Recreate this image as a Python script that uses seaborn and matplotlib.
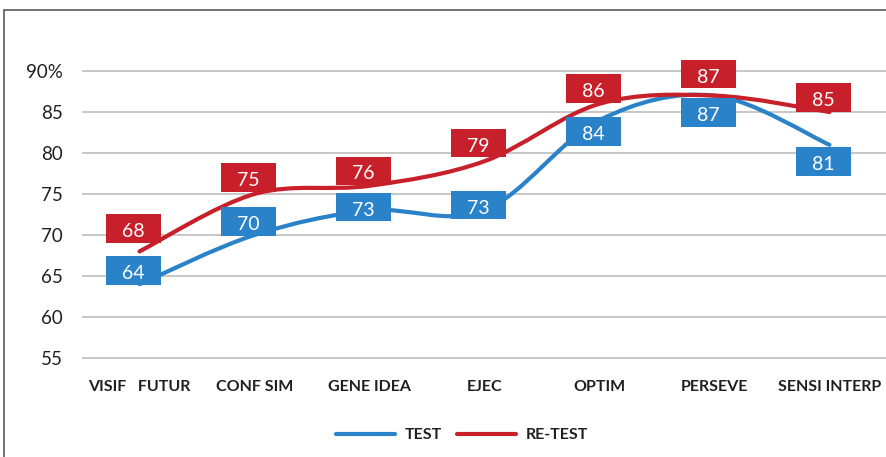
import numpy as np
import pandas as pd
import seaborn as sns
import matplotlib
matplotlib.use("Agg")
import matplotlib.pyplot as plt
from matplotlib.path import Path
from matplotlib.patches import PathPatch, Rectangle
from matplotlib.lines import Line2D
import matplotlib.transforms as mtransforms

# ---- data ----
categories = ["VISIF   FUTUR", "CONF SIM", "GENE IDEA", "EJEC", "OPTIM", "PERSEVE", "SENSI INTERP"]
test = [64, 70, 73, 73, 84, 87, 81]
retest = [68, 75, 76, 79, 86, 87, 85]
y_ticks = [55, 60, 65, 70, 75, 80, 85, 90]
y_tick_labels = ["55", "60", "65", "70", "75", "80", "85", "90%"]

# label box offsets (pixels, relative to the point)
test_label_dy = [13.5, 13.5, 3.5, 5.5, -11.5, -17, -16.5]
retest_label_dy = [23, 16.5, 15, 18, 15.5, 21.6, 14.5]
label_dx = -6

BLUE = "#2A82C8"
RED = "#C7202A"
GRID = "#BEBEBE"
TXT = "#231F20"

sns.set_theme(style="white")
plt.rcParams["font.family"] = ["Lato", "DejaVu Sans"]

W, H = 886, 457
fig = plt.figure(figsize=(W / 100, H / 100), dpi=100)
left_px, right_px = 82, 886
bottom_px, top_px = 362.1, 30
ax = fig.add_axes([left_px / W, (H - bottom_px) / H, (right_px - left_px) / W, (bottom_px - top_px) / H])

x = np.arange(len(categories))
df = pd.DataFrame({
    "pos": np.concatenate([x, x]),
    "value": test + retest,
    "series": ["TEST"] * len(x) + ["RE-TEST"] * len(x),
})
sns.lineplot(data=df, x="pos", y="value", hue="series",
             palette={"TEST": BLUE, "RE-TEST": RED}, linewidth=0, legend=False, ax=ax)

ax.set_xlim(-0.5, (right_px - left_px) / 115 - 0.5)
ax.set_ylim(54.5, 95)


def smooth_path(xs, ys):
    pts = np.column_stack([xs, ys]).astype(float)
    n = len(pts)
    verts = [pts[0]]
    codes = [Path.MOVETO]
    for i in range(n - 1):
        p0 = pts[i - 1] if i > 0 else pts[i]
        p1 = pts[i]
        p2 = pts[i + 1]
        p3 = pts[i + 2] if i + 2 < n else pts[i + 1]
        c1 = p1 + (p2 - p0) / 6.0
        c2 = p2 - (p3 - p1) / 6.0
        verts += [c1, c2, p2]
        codes += [Path.CURVE4] * 3
    return Path(verts, codes)


for vals, col, z in [(test, BLUE, 3), (retest, RED, 4)]:
    patch = PathPatch(smooth_path(x, vals), facecolor="none", edgecolor=col,
                      lw=3.0, capstyle="round", joinstyle="round", zorder=z)
    ax.add_patch(patch)

# grid lines
for t in y_ticks:
    ax.axhline(t, color=GRID, lw=1.2, zorder=1)

for s in ax.spines.values():
    s.set_visible(False)

ax.set_yticks(y_ticks)
ax.set_yticklabels(y_tick_labels, fontsize=13.5, color=TXT)
ax.tick_params(axis="y", length=0, pad=14)
ax.set_xticks(x)
ax.set_xticklabels(categories, fontsize=11.5, fontweight="bold", color=TXT)
ax.tick_params(axis="x", length=0, pad=13)
ax.set_xlabel("")
ax.set_ylabel("")
ax.grid(False)

# label boxes
bw, bh = 0.55, 0.285  # inches
for vals, dys, col, z in [(test, test_label_dy, BLUE, 6), (retest, retest_label_dy, RED, 7)]:
    for xi, v, dy in zip(x, vals, dys):
        trans = fig.dpi_scale_trans + mtransforms.ScaledTranslation(xi, v, ax.transData)
        cx, cy = label_dx / 100, dy / 100
        ax.add_patch(Rectangle((cx - bw / 2, cy - bh / 2), bw, bh, transform=trans,
                               facecolor=col, edgecolor="none", zorder=z, clip_on=False))
        ax.annotate(str(v), (xi, v), xytext=(label_dx * 0.72, dy * 0.72 - 1.2),
                    textcoords="offset points", ha="center", va="center_baseline",
                    color="white", fontsize=14, zorder=z + 0.5)

# legend
handles = [Line2D([], [], color=BLUE, lw=3.0, solid_capstyle="round"),
           Line2D([], [], color=RED, lw=3.0, solid_capstyle="round")]
leg = fig.legend(handles, ["TEST", "RE-TEST"], loc="center", bbox_to_anchor=(462 / W, (H - 435) / H),
                 ncol=2, frameon=False, handlelength=3.7, handletextpad=0.6, columnspacing=0.9,
                 prop={"family": ["Lato", "DejaVu Sans"], "weight": "bold", "size": 11.5})
for t in leg.get_texts():
    t.set_color(TXT)

# outer frame (cropped on right/bottom)
fig.add_artist(Rectangle((4 / W, -0.1), 2.0, (H - 10) / H + 0.1, transform=fig.transFigure,
                         fill=False, edgecolor="#5A5A5A", lw=1.2))

fig.savefig("out.png", dpi=100)
